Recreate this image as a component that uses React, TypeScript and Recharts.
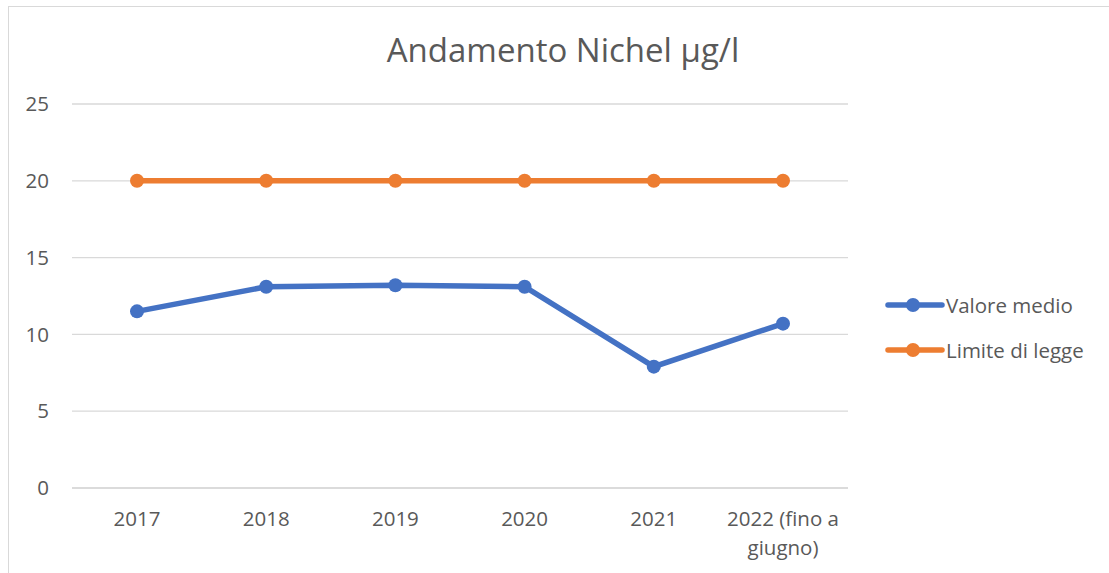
import { LineChart, Line, XAxis, YAxis, CartesianGrid } from 'recharts';

const years = ['2017', '2018', '2019', '2020', '2021', '2022 (fino a giugno)'];
const valoreMedio = [11.5, 13.1, 13.2, 13.1, 7.9, 10.7];
const limiteDiLegge = [20, 20, 20, 20, 20, 20];
const yTicks = [0, 5, 10, 15, 20, 25];

const BLUE = '#4472C4';
const ORANGE = '#ED7D31';
const TEXT = '#595959';
const FONT = '"Open Sans", "Noto Sans", sans-serif';

const data = years.map((year, i) => ({
  year,
  valore: valoreMedio[i],
  limite: limiteDiLegge[i],
}));

const legendItems = [
  { label: 'Valore medio', color: BLUE },
  { label: 'Limite di legge', color: ORANGE },
];

function XTick(props: any) {
  const { x, y, payload } = props;
  const label: string = payload.value;
  const lines = label.length > 10 ? ['2022 (fino a', 'giugno)'] : [label];
  return (
    <text x={x} y={y} textAnchor="middle" fill={TEXT} fontSize={20.5} fontFamily={FONT}>
      {lines.map((l, i) => (
        <tspan key={i} x={x} dy={i === 0 ? 30 : 29}>
          {l}
        </tspan>
      ))}
    </text>
  );
}

export default function App() {
  return (
    <div
      style={{
        position: 'fixed',
        top: 0,
        left: 0,
        width: 1109,
        height: 573,
        background: '#fff',
        overflow: 'hidden',
      }}
    >
      <div
        style={{
          position: 'absolute',
          left: 8,
          top: 6,
          width: 1200,
          height: 700,
          border: '1px solid #d9d9d9',
          boxSizing: 'border-box',
        }}
      />
      <div
        style={{
          position: 'absolute',
          top: 28,
          left: 0,
          width: 1126,
          textAlign: 'center',
          fontFamily: FONT,
          fontSize: 33,
          lineHeight: '44px',
          color: TEXT,
        }}
      >
        Andamento Nichel µg/l
      </div>
      <div style={{ position: 'absolute', top: 0, left: 0 }}>
        <LineChart
          width={1109}
          height={573}
          data={data}
          margin={{ top: 104, right: 261, bottom: 0, left: 0 }}
        >
          <CartesianGrid vertical={false} stroke="#d9d9d9" strokeWidth={1.3} />
          <XAxis
            dataKey="year"
            axisLine={{ stroke: '#d9d9d9', strokeWidth: 1.3 }}
            tickLine={false}
            tick={<XTick />}
            interval={0}
            height={85}
            padding={{ left: 65, right: 65 }}
          />
          <YAxis
            width={72}
            domain={[0, 25]}
            ticks={yTicks}
            axisLine={false}
            tickLine={false}
            tickMargin={17}
            tick={{ fill: TEXT, fontSize: 20.5, fontFamily: FONT }}
          />
          <Line
            type="linear"
            dataKey="valore"
            name="Valore medio"
            stroke={BLUE}
            strokeWidth={5.5}
            dot={{ r: 7, fill: BLUE, stroke: BLUE, strokeWidth: 0 }}
            isAnimationActive={false}
          />
          <Line
            type="linear"
            dataKey="limite"
            name="Limite di legge"
            stroke={ORANGE}
            strokeWidth={5.5}
            dot={{ r: 7, fill: ORANGE, stroke: ORANGE, strokeWidth: 0 }}
            isAnimationActive={false}
          />
        </LineChart>
      </div>
      <div style={{ position: 'absolute', left: 885, top: 282, fontFamily: FONT }}>
        {legendItems.map(it => (
          <div key={it.label} style={{ display: 'flex', alignItems: 'center', height: 45 }}>
            <svg width={60} height={20}>
              <line x1={3} y1={10} x2={57} y2={10} stroke={it.color} strokeWidth={5.5} strokeLinecap="round" />
              <circle cx={28} cy={10} r={7} fill={it.color} />
            </svg>
            <span style={{ fontSize: 20.5, color: TEXT, marginLeft: 1 }}>{it.label}</span>
          </div>
        ))}
      </div>
    </div>
  );
}
